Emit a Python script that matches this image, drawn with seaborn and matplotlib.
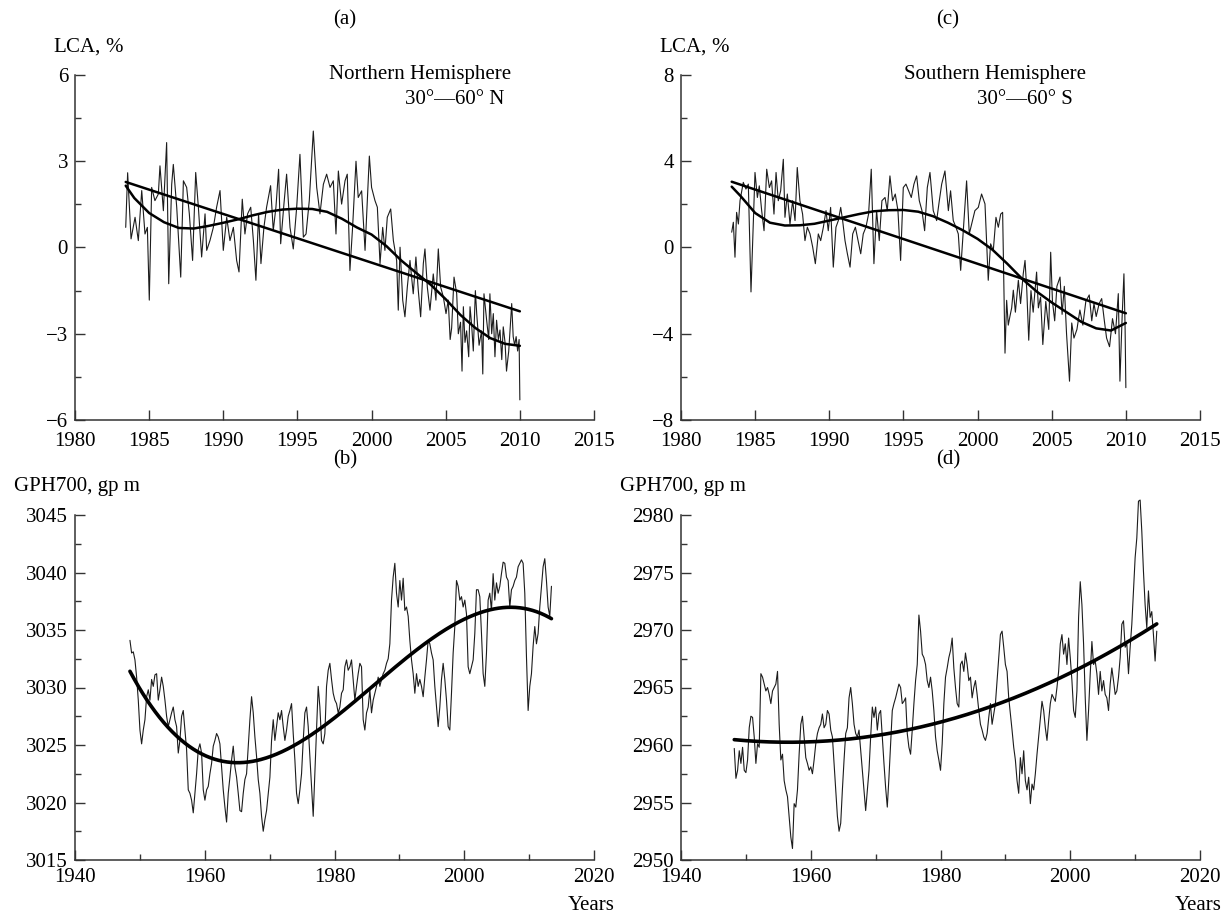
import numpy as np
import pandas as pd
import matplotlib
matplotlib.use("Agg")
import matplotlib.pyplot as plt
import seaborn as sns
from matplotlib.ticker import MultipleLocator

# (a) LCA, Northern Hemisphere 30-60 N
a_years = [1983.42, 1983.55, 1983.78, 1984.05, 1984.27, 1984.50, 1984.72, 1984.88, 1985.01, 1985.17, 1985.39, 1985.62, 1985.73, 1985.96,
           1986.18, 1986.32, 1986.52, 1986.63, 1986.86, 1987.13, 1987.31, 1987.53, 1987.71, 1987.93,
           1988.14, 1988.32, 1988.54, 1988.77, 1988.88, 1989.10, 1989.33, 1989.55, 1989.78, 1990.00,
           1990.23, 1990.45, 1990.68, 1990.90, 1991.06, 1991.28, 1991.46, 1991.64, 1991.85, 1992.03,
           1992.20, 1992.38, 1992.54, 1992.74, 1992.92, 1993.19, 1993.37, 1993.55, 1993.73, 1993.87,
           1994.09, 1994.27, 1994.50, 1994.72, 1994.95, 1995.17, 1995.40, 1995.58, 1995.80, 1996.07,
           1996.30, 1996.52, 1996.75, 1996.97, 1997.20, 1997.42, 1997.60, 1997.76, 1997.98, 1998.21,
           1998.36, 1998.54, 1998.72, 1998.95, 1999.10, 1999.33, 1999.56, 1999.85, 2000.00, 2000.23,
           2000.39, 2000.57, 2000.75, 2000.90, 2001.06, 2001.29, 2001.47, 2001.69, 2001.80, 2001.92,
           2002.10, 2002.25, 2002.41, 2002.59, 2002.81, 2002.99, 2003.15, 2003.31, 2003.49, 2003.60,
           2003.76, 2003.94, 2004.16, 2004.34, 2004.50, 2004.66, 2004.84, 2005.02, 2005.17, 2005.30,
           2005.40, 2005.56, 2005.74, 2005.85, 2006.00, 2006.10, 2006.19, 2006.30, 2006.41, 2006.55,
           2006.64, 2006.75, 2006.86, 2007.00, 2007.09, 2007.25, 2007.42, 2007.50, 2007.58, 2007.76,
           2007.90, 2007.98, 2008.10, 2008.21, 2008.32, 2008.43, 2008.55, 2008.66, 2008.78, 2008.88,
           2009.00, 2009.10, 2009.25, 2009.38, 2009.45, 2009.55, 2009.65, 2009.75, 2009.85, 2009.95, 2010.00]
a_lca = [0.70, 2.60, 0.30, 1.05, 0.24, 1.98, 0.47, 0.70, -1.83, 2.09, 1.63, 1.86, 2.84, 1.28,
         3.65, -1.26, 2.19, 2.89, 1.40, -1.03, 2.32, 2.09, 1.17, -0.45,
         2.61, 1.40, -0.33, 1.17, -0.10, 0.24, 0.70, 1.40, 1.98, -0.10,
         1.05, 0.24, 0.70, -0.45, -0.85, 1.68, 0.47, 1.17, 1.40, 0.24,
         -1.14, 1.17, -0.56, 0.70, 1.40, 2.15, 0.59, 1.40, 2.72, 0.13,
         1.51, 2.55, 0.70, -0.05, 1.40, 3.24, 0.36, 0.47, 1.63, 4.05,
         2.09, 1.17, 2.20, 2.55, 2.09, 2.32, 0.47, 2.66, 1.51, 2.32,
         2.55, -0.80, 0.70, 3.00, 1.74, 1.97, -0.10, 3.18, 2.09, 1.63,
         1.40, -0.56, 0.70, -0.10, 1.05, 1.34, 0.24, -0.45, -2.18, 0.01,
         -1.83, -2.41, -1.38, -0.45, -1.61, -0.33, -1.49, -2.41, -0.56, -0.05,
         -1.38, -2.18, -0.92, -1.83, -0.05, -1.38, -1.72, -2.30, -1.83, -3.20,
         -2.80, -1.03, -1.60, -3.00, -2.60, -4.30, -2.06, -3.30, -2.90, -3.80,
         -2.06, -2.70, -3.60, -1.50, -2.30, -3.40, -2.90, -4.40, -1.61, -2.53,
         -3.20, -1.61, -3.00, -2.30, -3.80, -2.53, -3.20, -2.87, -3.90, -2.76,
         -3.30, -4.30, -3.60, -2.50, -1.95, -3.10, -3.40, -3.10, -3.60, -3.20, -5.30]

curve_years = [1983.42, 1984, 1985, 1986, 1987, 1988, 1989, 1990, 1991, 1992, 1993, 1994, 1995, 1996,
               1997, 1998, 1999, 2000, 2001, 2002, 2003, 2004, 2005, 2006, 2007, 2008, 2009, 2010]
a_curve = [2.15, 1.72, 1.20, 0.88, 0.68, 0.66, 0.75, 0.86, 0.98, 1.12, 1.24, 1.32, 1.35, 1.34,
           1.24, 1.00, 0.70, 0.45, 0.05, -0.45, -0.88, -1.30, -1.80, -2.35, -2.80, -3.15, -3.35, -3.42]
c_curve = [2.82, 2.40, 1.60, 1.15, 1.02, 1.03, 1.10, 1.25, 1.40, 1.55, 1.68, 1.73, 1.74, 1.66,
           1.45, 1.15, 0.80, 0.40, -0.10, -0.75, -1.45, -2.05, -2.55, -3.00, -3.45, -3.75, -3.85, -3.50]
# straight trend lines of (a) and (c), end points
trend_years = [1983.42, 2010.0]
a_trend = [2.28, -2.22]
c_trend = [3.05, -3.05]

# (c) LCA, Southern Hemisphere 30-60 S
c_years = [1983.42, 1983.53, 1983.64, 1983.75, 1983.87, 1983.98, 1984.20, 1984.38, 1984.54, 1984.72,
           1984.99, 1985.15, 1985.28, 1985.44, 1985.60, 1985.78, 1985.96, 1986.11, 1986.27, 1986.41,
           1986.56, 1986.72, 1986.90, 1987.01, 1987.17, 1987.35, 1987.53, 1987.69, 1987.84, 1988.02,
           1988.20, 1988.36, 1988.52, 1988.70, 1988.88, 1989.06, 1989.26, 1989.42, 1989.60, 1989.78,
           1989.93, 1990.09, 1990.27, 1990.45, 1990.61, 1990.77, 1990.90, 1991.06, 1991.22, 1991.40,
           1991.58, 1991.76, 1991.94, 1992.12, 1992.29, 1992.47, 1992.65, 1992.83, 1993.01, 1993.19,
           1993.37, 1993.55, 1993.76, 1993.91, 1994.09, 1994.27, 1994.45, 1994.63, 1994.81, 1994.99,
           1995.17, 1995.35, 1995.53, 1995.71, 1995.89, 1996.07, 1996.25, 1996.43, 1996.61, 1996.79,
           1997.01, 1997.24, 1997.42, 1997.58, 1997.80, 1998.03, 1998.18, 1998.36, 1998.54, 1998.70,
           1998.86, 1999.04, 1999.26, 1999.44, 1999.60, 1999.82, 2000.05, 2000.27, 2000.50, 2000.72,
           2000.88, 2001.06, 2001.24, 2001.40, 2001.56, 2001.69,
           2001.78, 2001.85, 2001.96, 2002.07, 2002.18, 2002.30, 2002.41, 2002.55, 2002.75, 2002.90,
           2003.08, 2003.20, 2003.32, 2003.45, 2003.60, 2003.75, 2003.98, 2004.10, 2004.25, 2004.40,
           2004.60, 2004.80, 2004.93, 2005.05, 2005.20, 2005.35, 2005.56, 2005.70, 2005.85, 2006.00,
           2006.20, 2006.35, 2006.50, 2006.70, 2006.90, 2007.10, 2007.30, 2007.53, 2007.70, 2007.85,
           2008.00, 2008.20, 2008.37, 2008.55, 2008.70, 2008.90, 2009.10, 2009.30, 2009.49, 2009.60,
           2009.75, 2009.87, 2009.95, 2010.00]
c_lca = [0.71, 1.17, -0.45, 1.63, 1.09, 2.17, 3.02, 2.71, 2.94, -2.06,
         3.48, 2.32, 2.86, 1.71, 0.78, 3.63, 2.78, 3.09, 1.55, 3.48,
         2.17, 2.63, 4.09, 1.40, 2.48, 1.09, 2.17, 1.25, 3.71, 2.17,
         1.55, 0.32, 0.94, 0.63, 0.02, -0.75, 0.63, 0.32, 0.94, 1.71,
         0.78, 1.86, -0.91, 0.94, 1.25, 1.86, 1.25, 0.32, -0.29, -0.91,
         0.63, 0.94, 0.32, -0.29, 0.63, 0.94, 1.55, 3.63, -0.75, 1.71,
         0.32, 2.17, 2.32, 1.71, 3.32, 2.17, 2.48, 1.71, -0.60, 2.78,
         2.94, 2.63, 2.32, 2.94, 3.32, 2.17, 1.71, 0.78, 2.78, 3.48,
         1.71, 1.25, 2.17, 2.94, 3.55, 1.71, 2.63, 1.25, 0.94, 0.63,
         -1.06, 0.78, 3.09, 0.63, 1.09, 1.71, 1.86, 2.48, 2.02, -1.52,
         0.17, -0.14, 1.40, 0.94, 1.55, 1.63,
         -2.00, -4.90, -2.45, -3.60, -3.20, -2.80, -1.98, -3.00, -1.52, -2.60,
         -1.22, -0.60, -2.00, -4.30, -2.00, -3.00, -1.14, -2.80, -2.30, -4.50,
         -2.50, -3.80, -0.22, -2.50, -3.40, -1.80, -1.37, -3.10, -1.80, -4.00,
         -6.20, -3.50, -4.20, -3.80, -2.90, -3.60, -2.50, -2.20, -3.40, -2.60,
         -3.20, -2.60, -2.37, -3.40, -4.20, -4.60, -3.30, -4.00, -2.14, -6.20,
         -3.20, -1.22, -3.80, -6.50]

# (b) GPH700, Northern Hemisphere, one value every 0.2568 yr from 1948.47
b_start, b_step = 1948.47, 0.2568
b_gph = [3034.1, 3033.0, 3033.1, 3032.4, 3030.9, 3028.9, 3026.3, 3025.1, 3026.3, 3027.2,
         3029.2, 3029.8, 3028.9, 3030.7, 3030.1, 3031.1, 3031.2, 3028.9, 3029.8, 3030.9,
         3030.1, 3028.9, 3027.5, 3026.6, 3027.2, 3027.8, 3028.3, 3027.2, 3026.6, 3024.3,
         3025.4, 3027.5, 3028.0, 3026.3, 3024.6, 3021.1, 3020.8, 3020.2, 3019.1, 3020.8,
         3022.5, 3024.6, 3025.1, 3024.3, 3021.1, 3020.2, 3021.1, 3021.4, 3022.5, 3023.4,
         3024.9, 3025.4, 3026.0, 3025.7, 3025.1, 3023.1, 3021.1, 3019.6, 3018.3, 3020.8,
         3022.2, 3023.7, 3024.9, 3023.1, 3022.2, 3020.8, 3019.3, 3019.2, 3020.8, 3022.0,
         3022.5, 3024.9, 3027.2, 3029.2, 3027.8, 3025.7, 3024.0, 3022.0, 3020.8, 3018.8,
         3017.5, 3018.5, 3019.3, 3020.8, 3022.2, 3025.4, 3027.2, 3025.4, 3026.6, 3027.8,
         3027.2, 3028.0, 3026.6, 3025.4, 3026.3, 3027.5, 3028.0, 3028.6, 3026.0, 3023.7,
         3020.8, 3019.9, 3021.1, 3022.5, 3025.4, 3027.8, 3028.3, 3026.6, 3024.0, 3021.4,
         3018.8, 3022.5, 3026.0, 3030.1, 3028.3, 3025.4, 3025.1, 3026.0, 3030.1, 3031.5,
         3032.1, 3030.7, 3029.5, 3028.9, 3028.6, 3027.8, 3028.3, 3029.5, 3029.8, 3031.8,
         3032.4, 3031.5, 3031.8, 3032.4, 3030.7, 3028.9, 3030.1, 3031.2,
         3032.1, 3031.8, 3027.2, 3026.3, 3027.8, 3028.3, 3029.8, 3027.8, 3028.9, 3029.5,
         3030.1, 3030.9, 3030.1, 3030.7, 3031.2, 3031.5, 3032.1, 3032.5, 3033.8, 3037.6,
         3039.6, 3040.8, 3038.2, 3037.0, 3039.3, 3037.6, 3039.5, 3036.7, 3037.0, 3036.2,
         3034.1, 3032.4, 3031.2, 3029.5, 3031.2, 3030.1, 3030.7, 3030.1, 3029.2, 3030.9,
         3032.4, 3034.1, 3033.8, 3033.0, 3032.4, 3030.1, 3028.3, 3026.6, 3028.3, 3030.7,
         3032.1, 3030.7, 3028.9, 3026.6, 3026.3, 3029.5, 3033.0, 3035.3, 3039.3, 3038.8,
         3037.6, 3037.9, 3037.0, 3037.6, 3036.4, 3031.8, 3031.2, 3031.8, 3032.4, 3034.7,
         3038.5, 3038.5, 3037.9, 3034.7, 3031.2, 3030.1, 3033.0, 3037.6, 3038.2, 3036.7,
         3039.9, 3037.6, 3039.1, 3038.2, 3038.8, 3039.9, 3040.9, 3040.8, 3039.6, 3039.3,
         3037.0, 3038.5, 3038.8, 3039.3, 3039.6, 3040.5, 3040.8, 3041.1, 3040.8, 3038.2,
         3032.7, 3028.0, 3030.1, 3031.2, 3033.6, 3035.3, 3033.8, 3034.7, 3037.0, 3038.8,
         3040.5, 3041.2, 3039.3, 3037.0, 3036.2, 3038.8]

# (d) GPH700, Southern Hemisphere, one value every 0.2564 yr from 1948.21
d_start, d_step = 1948.21, 0.2564
d_gph = [2959.7, 2957.1, 2957.8, 2959.5, 2958.4, 2959.8, 2957.8, 2957.6, 2958.7, 2961.5,
         2962.5, 2962.4, 2960.7, 2958.4, 2960.1, 2959.8, 2966.2, 2965.9, 2965.3, 2964.7,
         2965.0, 2964.4, 2963.6, 2964.7, 2965.0, 2965.3, 2966.4, 2961.8, 2958.7, 2959.2,
         2956.9, 2956.1, 2955.5, 2953.8, 2952.0, 2951.0, 2954.9, 2954.6, 2956.1, 2959.2,
         2961.8, 2962.5, 2960.7, 2958.9, 2958.4, 2957.8, 2958.1, 2957.5, 2958.7, 2960.1,
         2961.0, 2961.5, 2961.8, 2962.7, 2961.5, 2961.8, 2963.0, 2962.7, 2961.3, 2960.7,
         2958.4, 2956.1, 2953.8, 2952.5, 2953.2, 2956.1, 2958.7, 2961.0, 2961.5, 2964.1,
         2965.0, 2963.6, 2961.8, 2961.0, 2960.7, 2961.3, 2959.5, 2957.8, 2956.1, 2954.3,
         2956.1, 2957.8, 2960.7, 2963.3, 2962.4, 2963.3, 2961.3, 2962.7, 2963.0, 2960.7,
         2958.4, 2956.3, 2954.6, 2957.2, 2960.1, 2963.0, 2963.6, 2964.1, 2964.7, 2965.3,
         2965.0, 2963.6, 2963.8, 2964.1, 2961.0, 2959.8, 2959.2, 2961.3, 2963.6, 2965.6,
         2967.0, 2971.3, 2969.9, 2967.9, 2967.6, 2967.0, 2965.6, 2965.0, 2965.9, 2964.7,
         2963.0, 2960.7, 2959.5, 2958.7, 2957.8, 2960.1, 2963.6, 2965.9, 2966.7, 2967.6,
         2968.2, 2969.3, 2966.7, 2965.0, 2963.6,
         2963.3, 2967.0, 2967.3, 2966.4, 2968.0, 2967.0, 2965.6, 2965.9, 2964.1, 2965.0,
         2965.6, 2964.4, 2963.0, 2961.8, 2961.3, 2960.7, 2960.4, 2961.0, 2962.4, 2963.6,
         2961.8, 2962.7, 2963.6, 2965.6, 2967.6, 2969.6, 2969.9, 2968.5, 2967.0, 2966.4,
         2964.1, 2962.7, 2961.3, 2959.8, 2958.7, 2956.9, 2955.8, 2958.9, 2957.5, 2959.5,
         2956.9, 2956.1, 2957.2, 2954.9, 2956.6, 2956.1, 2957.5, 2959.2, 2960.7, 2962.1,
         2963.8, 2963.0, 2961.5, 2960.4, 2962.1, 2963.6, 2964.4, 2964.1, 2963.8, 2965.0,
         2966.4, 2968.8, 2969.6, 2967.9, 2968.8, 2967.0, 2969.3, 2967.6, 2965.6, 2963.0,
         2962.4, 2964.7, 2971.1, 2974.2, 2972.2, 2968.8, 2964.1, 2960.4, 2963.0, 2966.2,
         2969.0, 2967.0, 2967.3, 2966.2, 2964.4, 2966.4, 2964.7, 2965.6, 2964.4, 2964.1,
         2963.0, 2965.3, 2966.7, 2965.6, 2964.4, 2964.7, 2965.9, 2967.6, 2970.5, 2970.8,
         2968.5, 2968.8, 2966.2, 2968.5, 2970.5, 2973.4, 2976.3, 2978.0, 2981.2, 2981.3,
         2978.6, 2975.1, 2972.2, 2970.2, 2973.4, 2971.1, 2971.6, 2969.6, 2967.3, 2969.9]

sns.set_theme(style="ticks")
plt.rcParams["font.family"] = ["Liberation Serif", "DejaVu Serif"]
plt.rcParams["mathtext.fontset"] = "custom"
plt.rcParams["mathtext.rm"] = "Liberation Serif"
plt.rcParams["mathtext.it"] = "Liberation Serif:italic"
FS = 15
INK = "#1c1c1c"

W, H = 1228, 918
fig = plt.figure(figsize=(W / 100, H / 100), dpi=100)


def px_axes(x0, y0, x1, y1):
    return fig.add_axes([x0 / W, 1 - y1 / H, (x1 - x0) / W, (y1 - y0) / H])


def txt(x, y, s, ha="center", **kw):
    fig.text(x / W, 1 - y / H, s, ha=ha, va="center", fontsize=FS, color="black", **kw)


def noisy(ax, years, vals):
    df = pd.DataFrame({"year": years, "value": vals})
    sns.lineplot(data=df, x="year", y="value", ax=ax, color=INK, linewidth=0.8,
                 estimator=None, sort=False, clip_on=False)


def smooth(ax, years, vals, lw):
    sns.lineplot(x=years, y=vals, ax=ax, color="black", linewidth=lw,
                 estimator=None, sort=False)


def polyfit_line(ax, years, vals, deg, lw):
    years = np.asarray(years, dtype=float)
    vals = np.asarray(vals, dtype=float)
    t0 = years.mean()
    tt = np.linspace(years[0], years[-1], 400)
    coef = np.polyfit(years - t0, vals, deg)
    smooth(ax, tt, np.polyval(coef, tt - t0), lw)


def style(ax, xpad):
    ax.set_xlabel("")
    ax.set_ylabel("")
    sns.despine(ax=ax)
    for sp in ["left", "bottom"]:
        ax.spines[sp].set_linewidth(1.1)
        ax.spines[sp].set_color("#333333")
    ax.tick_params(which="both", direction="in", colors="#333333", labelcolor="black",
                   labelsize=FS, width=1.0)
    ax.tick_params(which="major", length=7)
    ax.tick_params(which="minor", length=4.5)
    ax.tick_params(axis="y", pad=5)
    ax.tick_params(axis="x", pad=xpad)


# top panels
ax_a = px_axes(75, 75, 594, 420)
noisy(ax_a, a_years, a_lca)
smooth(ax_a, trend_years, a_trend, 1.8)
smooth(ax_a, curve_years, a_curve, 1.8)
style(ax_a, 8.5)
ax_a.set_xlim(1980, 2015)
ax_a.set_ylim(-6, 6)
ax_a.xaxis.set_major_locator(MultipleLocator(5))
ax_a.yaxis.set_major_locator(MultipleLocator(3))
ax_a.yaxis.set_minor_locator(MultipleLocator(1.5))

ax_c = px_axes(681, 75, 1200, 420)
noisy(ax_c, c_years, c_lca)
smooth(ax_c, trend_years, c_trend, 1.8)
smooth(ax_c, curve_years, c_curve, 1.8)
style(ax_c, 8.5)
ax_c.set_xlim(1980, 2015)
ax_c.set_ylim(-8, 8)
ax_c.xaxis.set_major_locator(MultipleLocator(5))
ax_c.yaxis.set_major_locator(MultipleLocator(4))
ax_c.yaxis.set_minor_locator(MultipleLocator(2))

# bottom panels
b_years = b_start + b_step * np.arange(len(b_gph))
ax_b = px_axes(75, 515, 594, 860)
noisy(ax_b, b_years, b_gph)
polyfit_line(ax_b, b_years, b_gph, 3, 2.6)
style(ax_b, 6)
ax_b.set_xlim(1940, 2020)
ax_b.set_ylim(3015, 3045)
ax_b.xaxis.set_major_locator(MultipleLocator(20))
ax_b.xaxis.set_minor_locator(MultipleLocator(10))
ax_b.yaxis.set_major_locator(MultipleLocator(5))
ax_b.yaxis.set_minor_locator(MultipleLocator(2.5))

d_years = d_start + d_step * np.arange(len(d_gph))
ax_d = px_axes(681, 515, 1200, 860)
noisy(ax_d, d_years, d_gph)
polyfit_line(ax_d, d_years, d_gph, 2, 2.6)
style(ax_d, 6)
ax_d.set_xlim(1940, 2020)
ax_d.set_ylim(2950, 2980)
ax_d.xaxis.set_major_locator(MultipleLocator(20))
ax_d.xaxis.set_minor_locator(MultipleLocator(10))
ax_d.yaxis.set_major_locator(MultipleLocator(5))
ax_d.yaxis.set_minor_locator(MultipleLocator(2.5))

# annotations
txt(345, 20, "(a)")
txt(948, 20, "(c)")
txt(345, 460, "(b)")
txt(948, 460, "(d)")
txt(53, 47, r"LCA, $\mathit{\%}$", ha="left")
txt(659, 47, r"LCA, $\mathit{\%}$", ha="left")
txt(14, 487, "GPH700, gp m", ha="left")
txt(620, 487, "GPH700, gp m", ha="left")
txt(420, 75, "Northern Hemisphere")
txt(455, 100, "30°—60° N")
txt(995, 75, "Southern Hemisphere")
txt(1025, 100, "30°—60° S")
txt(591, 905, "Years")
txt(1198, 905, "Years")

fig.savefig("out.png", dpi=100)
